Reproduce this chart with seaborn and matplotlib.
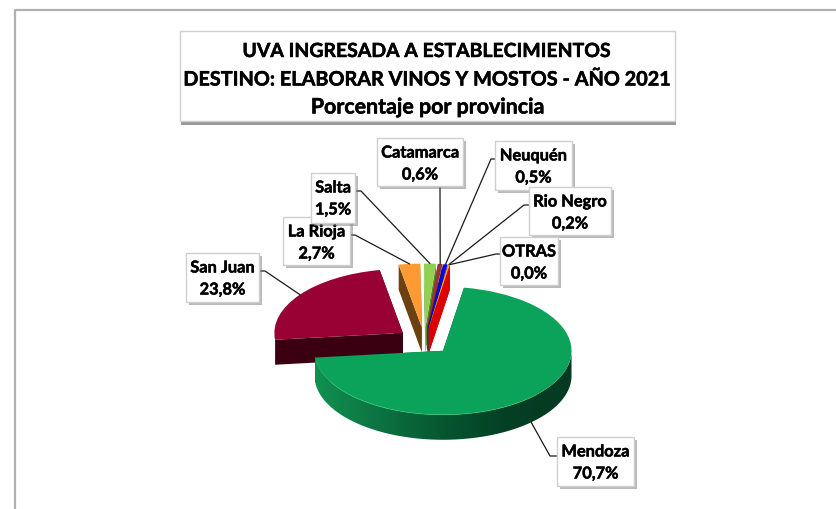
import numpy as np
import matplotlib
matplotlib.use("Agg")
import matplotlib.pyplot as plt
import matplotlib.patheffects as pe
from matplotlib.patches import Rectangle, Polygon
import seaborn as sns

TITLE_LINES = ["UVA INGRESADA A ESTABLECIMIENTOS",
               "DESTINO: ELABORAR VINOS Y MOSTOS - AÑO 2021",
               "Porcentaje por provincia"]
TITLE_SIZES = [14.0, 14.3, 15.4]

PROVINCES = ["Mendoza", "San Juan", "La Rioja", "Salta", "Catamarca", "Neuquén", "Rio Negro", "OTRAS"]
PERCENTS = [70.7, 23.8, 2.7, 1.5, 0.6, 0.5, 0.2, 0.0]
TOP_COLORS = ["#0ba35a", "#990033", "#ff9933", "#92d050", "#953735", "#0000ff", "#ffa500", "#dd0000"]
WALL_COLORS = ["#04502c", "#3a0012", "#6b4112", "#5a8a2e", "#5f2322", "#000090", "#b07000", "#dd0000"]

# label boxes in picture pixels: left, top, right, bottom
LABEL_BOXES = [(557, 438, 634, 487), (186, 254, 259, 303), (283, 218, 350, 266), (311, 174, 355, 224),
               (377, 139, 463, 187), (495, 142, 572, 191), (529, 188, 611, 236), (500, 238, 558, 286)]
# where the leader leaves the box, then its elbow
LEADER_STARTS = [(557, 457), (259, 272), (350, 236), (355, 192), (440, 187), (495, 160), (529, 206), (500, 255)]
LEADER_ELBOWS = [(550, 457), (265, 272), (355, 236), (361, 192), (440, 190), (491, 160), (524, 206), (496, 255)]

W, H = 837, 510
CX, CY = 424.5, 342    # pie centre before exploding
RX, RY = 128.5, 64     # pixels per radius
DEPTH = 25 / RY
EXPLODE = 0.21
START = 80.6
BOLDER = [pe.withStroke(linewidth=0.35, foreground="black")]


def to_px(x, y):
    return CX + RX * x, CY - RY * y


def draw_wall(ax, wedge, angle, color):
    cx, cy = wedge.center
    ex = cx + np.cos(np.radians(angle))
    ey = cy + np.sin(np.radians(angle))
    ax.fill([cx, ex, ex, cx], [cy, ey, ey - DEPTH, cy - DEPTH], color=color, lw=0, zorder=1)


def draw_rim(ax, wedge):
    # front side of the big slice, shaded from left to right
    cx, cy = wedge.center
    t = np.radians(np.linspace(wedge.theta1, 0, 200))
    xs = cx + np.cos(t)
    ys = cy + np.sin(t)
    outline = np.column_stack([np.r_[xs, xs[::-1]], np.r_[ys, ys[::-1] - DEPTH]])
    clip = Polygon(outline, closed=True, transform=ax.transData, facecolor="none", edgecolor="none")
    ax.add_patch(clip)
    shades = sns.blend_palette(["#10914f", "#0c7342", "#06562f", "#043f24", "#053a22"], as_cmap=True)
    img = ax.imshow(np.linspace(0, 1, 256).reshape(1, -1), cmap=shades, aspect="auto", zorder=2,
                    extent=[xs.min(), xs.max(), ys.min() - DEPTH, ys.max()])
    img.set_clip_path(clip)
    ax.plot(xs[:150], ys[:150], color="#2fc97e", lw=0.5, alpha=0.8, zorder=4)


def anchor(wedge, is_front):
    mid = np.radians((wedge.theta1 + wedge.theta2) / 2)
    x = wedge.center[0] + np.cos(mid)
    y = wedge.center[1] + np.sin(mid)
    if is_front:
        y -= DEPTH
    return to_px(x, y)


sns.set_theme(style="white")
plt.rcParams["font.family"] = ["Lato", "DejaVu Sans"]

fig = plt.figure(figsize=(W / 100, H / 100), dpi=100, facecolor="white")
ax = fig.add_axes([0, 0, 1, 1])
wedges, _ = ax.pie(PERCENTS, colors=sns.color_palette(TOP_COLORS), explode=[EXPLODE] * len(PERCENTS),
                   startangle=START, counterclock=False, wedgeprops={"linewidth": 0, "zorder": 3})
for wedge, wall in zip(wedges, WALL_COLORS):
    draw_wall(ax, wedge, wedge.theta1, wall)
    draw_wall(ax, wedge, wedge.theta2, wall)
draw_rim(ax, wedges[0])
ax.set_aspect("auto")
ax.set_xlim(-CX / RX, (W - CX) / RX)
ax.set_ylim(-(H - CY) / RY, CY / RY)
ax.axis("off")

over = fig.add_axes([0, 0, 1, 1])
over.set_xlim(0, W)
over.set_ylim(H, 0)
over.axis("off")
over.patch.set_alpha(0)

# outer frame, cut off by the picture edge
over.plot([15.5, 15.5, W], [H, 10.5, 10.5], color="#b0b0b0", lw=1.6, zorder=1)

shadow = [pe.SimplePatchShadow(offset=(2, -2), shadow_rgbFace="#777777", alpha=0.5), pe.Normal()]

over.add_patch(Rectangle((180, 32), 495, 90, facecolor="white", edgecolor="#cfcfcf", lw=1, zorder=5,
                         path_effects=[pe.SimplePatchShadow(offset=(1, -3), shadow_rgbFace="#555555", alpha=0.6),
                                       pe.Normal()]))
for line, size, y in zip(TITLE_LINES, TITLE_SIZES, [52.5, 80.5, 108.5]):
    over.text(427.5, y, line, ha="center", va="center", fontsize=size, fontweight="bold", color="black",
              zorder=6, path_effects=BOLDER)

for i, (name, value) in enumerate(zip(PROVINCES, PERCENTS)):
    px, py = anchor(wedges[i], i == 0)
    start, elbow = LEADER_STARTS[i], LEADER_ELBOWS[i]
    over.plot([start[0], elbow[0], px], [start[1], elbow[1], py], color="#1a1a1a", lw=0.9, zorder=2)
    x0, y0, x1, y1 = LABEL_BOXES[i]
    z = 10 + i
    over.add_patch(Rectangle((x0, y0), x1 - x0, y1 - y0, facecolor="white", edgecolor="#cfcfcf", lw=1,
                             zorder=z, path_effects=shadow))
    xm = (x0 + x1) / 2
    over.text(xm, y0 + 15.5, name, ha="center", va="center", fontsize=11.8, fontweight="bold",
              color="black", zorder=z + 0.5, path_effects=BOLDER)
    over.text(xm, y0 + 37.5, f"{value:.1f}%".replace(".", ","), ha="center", va="center", fontsize=11.8,
              fontweight="bold", color="black", zorder=z + 0.5, path_effects=BOLDER)

fig.savefig("out.png", dpi=100)
